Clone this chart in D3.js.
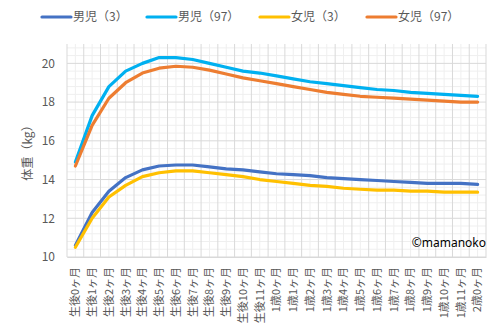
<!DOCTYPE html>
<html><head><meta charset="utf-8">
<script src="https://cdn.jsdelivr.net/npm/d3@7"></script>
<style>body{margin:0;background:#fff}</style>
</head><body>
<svg id="c" width="500" height="334"></svg>
<script>
const categories = ["生後0ヶ月","生後1ヶ月","生後2ヶ月","生後3ヶ月","生後4ヶ月","生後5ヶ月","生後6ヶ月","生後7ヶ月","生後8ヶ月","生後9ヶ月","生後10ヶ月","生後11ヶ月","1歳0ヶ月","1歳1ヶ月","1歳2ヶ月","1歳3ヶ月","1歳4ヶ月","1歳5ヶ月","1歳6ヶ月","1歳7ヶ月","1歳8ヶ月","1歳9ヶ月","1歳10ヶ月","1歳11ヶ月","2歳0ヶ月"];
const boys3  = [10.6,12.3,13.4,14.1,14.5,14.7,14.75,14.75,14.65,14.55,14.5,14.4,14.3,14.25,14.2,14.1,14.05,14.0,13.95,13.9,13.85,13.8,13.8,13.8,13.75];
const boys97 = [14.9,17.3,18.8,19.6,20.0,20.3,20.3,20.2,20.0,19.8,19.6,19.5,19.35,19.2,19.05,18.95,18.85,18.75,18.65,18.6,18.5,18.45,18.4,18.35,18.3];
const girls3 = [10.5,12.0,13.1,13.7,14.15,14.35,14.45,14.45,14.35,14.25,14.15,14.0,13.9,13.8,13.7,13.65,13.55,13.5,13.45,13.45,13.4,13.4,13.35,13.35,13.35];
const girls97= [14.7,16.8,18.2,19.0,19.5,19.75,19.85,19.8,19.65,19.45,19.25,19.1,18.95,18.8,18.65,18.5,18.4,18.3,18.25,18.2,18.15,18.1,18.05,18.0,18.0];
const seriesNames = ["男児（3）","男児（97）","女児（3）","女児（97）"];
const yTicks = [10,12,14,16,18,20];
const yTitle = "体重（kg）";
const credit = "©mamanoko";

const colors = ["#4472C4","#00B0F0","#FFC000","#ED7D31"];
const seriesData = [boys3, boys97, girls3, girls97];
const font = "'Noto Sans CJK JP','Noto Sans',sans-serif";
const textColor = "#595959";

const svg = d3.select("#c");
const L = 67, R = 486, T = 44, B = 257;
const x = d3.scaleBand().domain(categories).range([L, R]).paddingInner(0).paddingOuter(0);
const y = d3.scaleLinear().domain([10, 21]).range([B, T]);

// minor horizontal grid
const minorY = d3.range(10.4, 21.001, 0.4).filter(v => Math.abs(v/2 - Math.round(v/2)) > 0.01);
svg.append("g").selectAll("line").data(minorY).join("line")
  .attr("x1", L).attr("x2", R).attr("y1", d => y(d)).attr("y2", d => y(d))
  .attr("stroke", "#efefef").attr("stroke-width", 1);
// minor vertical grid at category centers
svg.append("g").selectAll("line").data(categories).join("line")
  .attr("x1", d => x(d) + x.bandwidth()/2).attr("x2", d => x(d) + x.bandwidth()/2)
  .attr("y1", T).attr("y2", B)
  .attr("stroke", "#efefef").attr("stroke-width", 1);
// major horizontal grid
svg.append("g").selectAll("line").data(yTicks).join("line")
  .attr("x1", L).attr("x2", R).attr("y1", d => y(d)).attr("y2", d => y(d))
  .attr("stroke", "#d9d9d9").attr("stroke-width", 1);
// major vertical grid at category boundaries
const bounds = categories.map(c => x(c)).concat([R]);
svg.append("g").selectAll("line").data(bounds).join("line")
  .attr("x1", d => d).attr("x2", d => d).attr("y1", T).attr("y2", B)
  .attr("stroke", "#d9d9d9").attr("stroke-width", 1);

// y axis labels
const yAxis = d3.axisLeft(y).tickValues(yTicks).tickSize(0).tickPadding(12);
const gy = svg.append("g").attr("transform", `translate(${L},0)`).call(yAxis);
gy.select(".domain").remove();
gy.selectAll("text").attr("fill", textColor).style("font-family", font).style("font-size", "12px");

// x axis
const xAxis = d3.axisBottom(x).tickSize(0).tickPadding(0);
const gx = svg.append("g").attr("transform", `translate(0,${B})`).call(xAxis);
gx.select(".domain").attr("stroke", "#d9d9d9");
gx.selectAll("text")
  .attr("fill", textColor).style("font-family", font).style("font-size", "11px")
  .attr("text-anchor", "end")
  .attr("transform", "translate(0,10) rotate(-90)")
  .attr("x", 0).attr("y", 0).attr("dy", "0.35em");

// y title
svg.append("text").attr("transform", "translate(28,150) rotate(-90)")
  .attr("text-anchor", "middle").attr("dy", "0.35em")
  .attr("fill", textColor).style("font-family", font).style("font-size", "12px")
  .text(yTitle);

// lines
const line = d3.line().x((d, i) => x(categories[i]) + x.bandwidth()/2).y(d => y(d));
seriesData.forEach((s, k) => {
  svg.append("path").datum(s).attr("d", line)
    .attr("fill", "none").attr("stroke", colors[k]).attr("stroke-width", 3.2)
    .attr("stroke-linejoin", "round").attr("stroke-linecap", "round");
});

// legend
const legX = [42, 147, 260, 367];
seriesNames.forEach((n, k) => {
  const g = svg.append("g").attr("transform", `translate(${legX[k]},17)`);
  g.append("line").attr("x1", 0).attr("x2", 29).attr("stroke", colors[k]).attr("stroke-width", 3.2).attr("stroke-linecap", "round");
  g.append("text").attr("x", 31).attr("dy", "0.35em").attr("fill", textColor)
    .style("font-family", font).style("font-size", "12px").text(n);
});

// credit
svg.append("text").attr("x", 486).attr("y", 243).attr("text-anchor", "end").attr("dy", "0.35em")
  .attr("fill", "#000").style("font-family", "'Noto Sans',sans-serif").style("font-size", "12px").text(credit);
</script>
</body></html>
